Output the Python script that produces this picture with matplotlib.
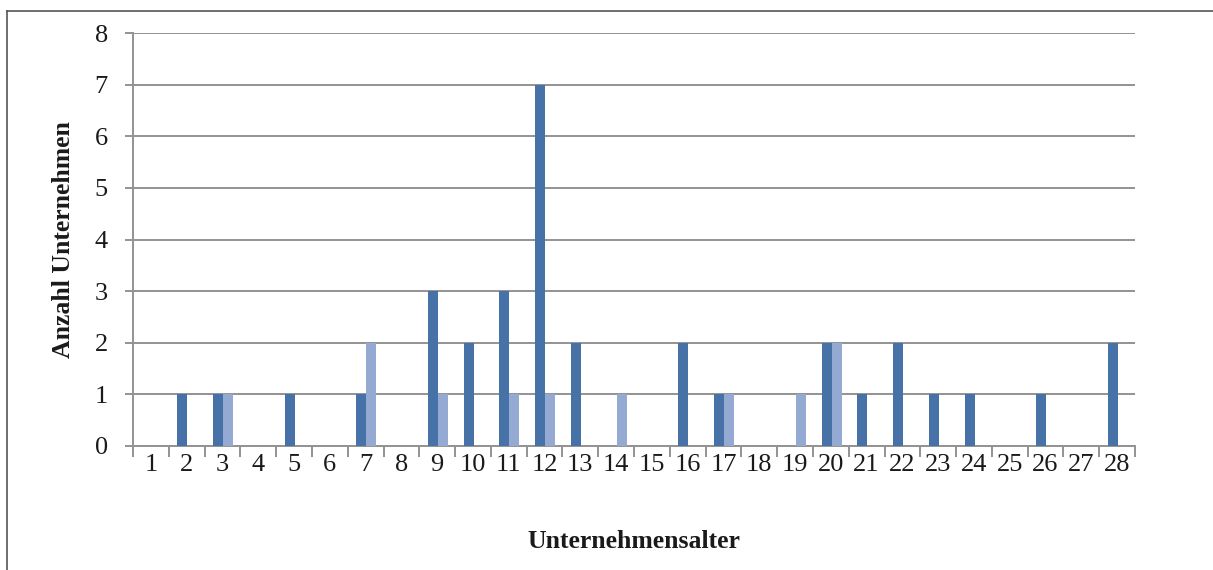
import matplotlib
matplotlib.use("Agg")
import matplotlib.pyplot as plt
import numpy as np
from matplotlib.lines import Line2D

plt.rcParams["font.family"] = ["Liberation Serif", "DejaVu Serif"]

# Unternehmensalter (Jahre)
ages = [str(a) for a in range(1, 29)]
# two series
series_dark = [0, 1, 1, 0, 1, 0, 1, 0, 3, 2, 3, 7, 2, 0, 0, 2, 1, 0, 0, 2, 1, 2, 1, 1, 0, 1, 0, 2]
series_light = [0, 0, 1, 0, 0, 0, 2, 0, 1, 0, 1, 1, 0, 1, 0, 0, 1, 0, 1, 2, 0, 0, 0, 0, 0, 0, 0, 0]
yticks = list(range(0, 9))

dark = "#4672A8"
light = "#95AAD3"
grid = "#939393"
ink = "#1a1a1a"

W, H = 1213, 570
fig = plt.figure(figsize=(W / 100, H / 100), dpi=100)

# outer frame (top + left visible, rest runs off the image)
fig.add_artist(Line2D([7 / W, 1.0], [1 - 11 / H, 1 - 11 / H], color="#555555", lw=1.2))
fig.add_artist(Line2D([7 / W, 7 / W], [0.0, 1 - 11 / H], color="#555555", lw=1.2))

ax = fig.add_axes([133 / W, 1 - 446 / H, 1002 / W, 413 / H])

x = np.arange(len(ages))
bw = 0.28
ax.bar(x - bw / 2 + 0.02, series_dark, width=bw, color=dark, zorder=3)
ax.bar(x + bw / 2 + 0.02, series_light, width=bw, color=light, zorder=3)

ax.set_xlim(-0.5, len(ages) - 0.5)
ax.set_ylim(0, 8)
ax.set_yticks(yticks)
ax.yaxis.grid(True, color=grid, lw=1.4, zorder=0)
ax.set_axisbelow(True)

for s in ("top", "right"):
    ax.spines[s].set_visible(False)
for s in ("left", "bottom"):
    ax.spines[s].set_color(grid)
    ax.spines[s].set_linewidth(1.4)

ax.set_xticks(x)
ax.set_xticklabels(ages)
ax.set_xticks(np.arange(-0.5, len(ages)), minor=True)
ax.tick_params(axis="x", which="major", length=0, pad=6, labelsize=19, labelcolor=ink)
ax.tick_params(axis="x", which="minor", length=8, width=1.4, color=grid)
ax.tick_params(axis="y", length=6, width=1.4, color=grid, pad=12, labelsize=19, labelcolor=ink)

fig.text(63 / W, 1 - 240 / H, "Anzahl Unternehmen", rotation=90, ha="center", va="center",
         fontsize=18.5, fontweight="bold", color=ink)
fig.text(634 / W, 1 - 542 / H, "Unternehmensalter", ha="center", va="center",
         fontsize=18.5, fontweight="bold", color=ink)

fig.savefig("out.png", dpi=100)
